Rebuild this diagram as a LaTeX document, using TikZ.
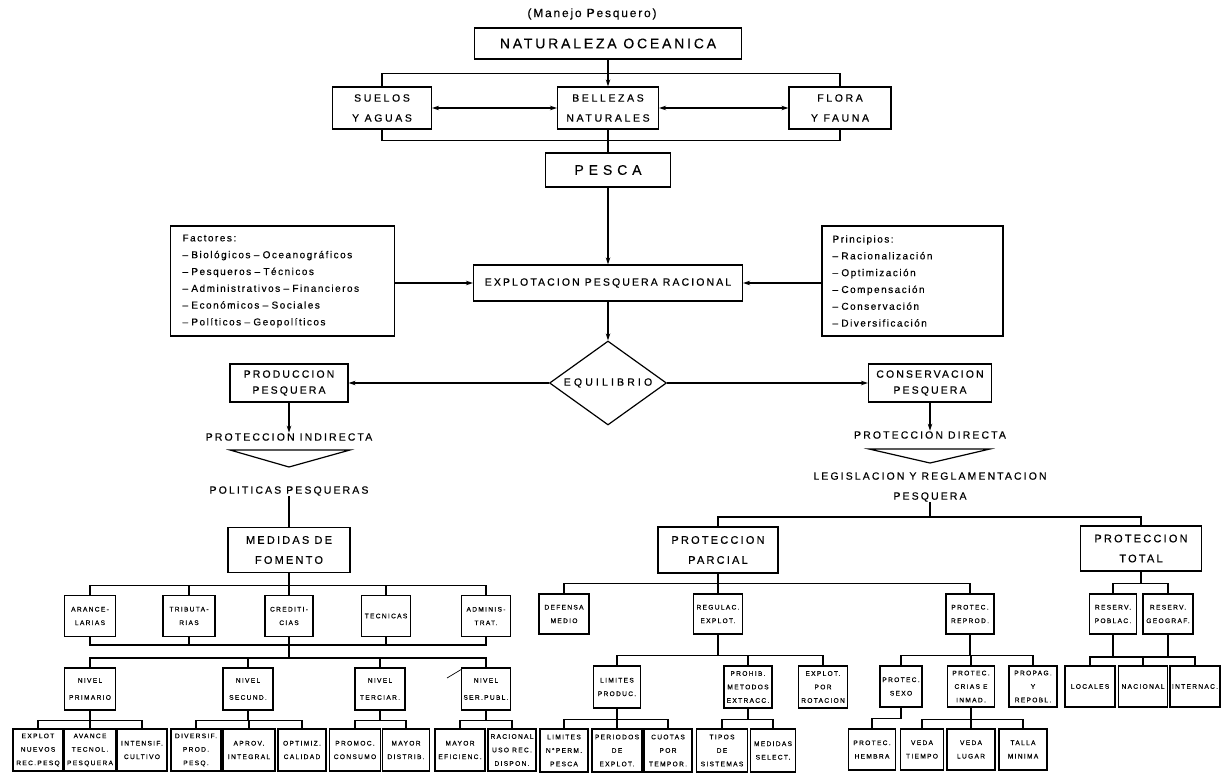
\documentclass[tikz,border=0pt]{standalone}
\usepackage{fontspec}
\setmainfont{Liberation Sans}
\newfontfamily\lettering{Liberation Sans}[LetterSpace=20, FakeBold=0.4]
\newfontfamily\handlettering{Liberation Sans}[LetterSpace=15, FakeBold=0.4]
\usetikzlibrary{positioning,arrows.meta,shapes.geometric}

\newcommand{\fntbig}{\lettering\fontsize{14}{20}\selectfont}
\newcommand{\fnthead}{\lettering\fontsize{11}{20}\selectfont}
\newcommand{\fntmid}{\lettering\fontsize{10.5}{20}\selectfont}
\newcommand{\fntpair}{\lettering\fontsize{10.5}{16}\selectfont}
\newcommand{\fntleaf}{\lettering\fontsize{6.6}{13.5}\selectfont}
\newcommand{\fntlist}{\handlettering\fontsize{10}{16.8}\selectfont}

\begin{document}
\begin{tikzpicture}[
      x=1pt, y=-1pt,
      line width=1.2pt,
      every node/.style={
        align=center, inner sep=0pt
      },
      box/.style={draw},
      topbox/.style={box, minimum height=42, font=\fntmid\addfontfeature{LetterSpace=25}},
      leaf/.style={box, minimum width=49, minimum height=41, font=\fntleaf},
      nivel/.style={leaf, minimum height=42, font=\lettering\fontsize{6.6}{17}\selectfont},
      >={Stealth[length=7pt,width=4.5pt]}
    ]
    \useasboundingbox (0,0) rectangle (1222,775);

    % Top
    \node (manejo) [font=\handlettering\fontsize{12}{14}\selectfont] at (592,14) {(Manejo Pesquero)};
    \node (nat) [box, minimum width=267, minimum height=31, font=\fntbig] at (608,43.5) {NATURALEZA OCEANICA};
    \node (suelos) [topbox, minimum width=99] at (382,108) {SUELOS\\Y AGUAS};
    \node (bellezas) [topbox, minimum width=101] at (608,108) {BELLEZAS\\NATURALES};
    \node (flora) [topbox, minimum width=102] at (840,108) {FLORA\\Y FAUNA};
    \node (pesca) [box, minimum width=125, minimum height=34, font=\fntbig\addfontfeature{LetterSpace=35}] at (608,170) {PESCA};

    % Factores and principios
    \node (factores) [box, text width=200, inner xsep=12, minimum height=110, align=left, font=\fntlist] at (282.5,281)
      {Factores:\\– Biológicos – Oceanográficos\\– Pesqueros – Técnicos\\– Administrativos – Financieros\\– Económicos – Sociales\\– Políticos – Geopolíticos};
    \node (explot) [box, minimum width=269, minimum height=36, font=\fntmid] at (608,283) {EXPLOTACION PESQUERA RACIONAL};
    \node (principios) [box, text width=160, inner xsep=10.5, minimum height=110, align=left, font=\fntlist] at (912.5,281)
      {Principios:\\– Racionalización\\– Optimización\\– Compensación\\– Conservación\\– Diversificación};

    % Equilibrio
    \node (equil) [draw, diamond, aspect=1.4, minimum width=117, minimum height=84, font=\fntmid\addfontfeature{LetterSpace=30}] at (608,383) {EQUILIBRIO};
    \node (produccion) [box, minimum width=118, minimum height=38, font=\fntpair] at (289,383) {PRODUCCION\\PESQUERA};
    \node (conserv) [box, minimum width=123, minimum height=38, font=\fntpair] at (930,383) {CONSERVACION\\PESQUERA};
    \node (proind) [font=\fntmid] at (289,437) {PROTECCION INDIRECTA};
    \node (politicas) [font=\fntmid] at (289,491) {POLITICAS PESQUERAS};
    \node (prodir) [font=\fntmid] at (930,435) {PROTECCION DIRECTA};
    \node (legis) [font=\fntmid] at (930,487) {LEGISLACION Y REGLAMENTACION\\PESQUERA};

    % Medidas de fomento
    \node (medidas) [box, minimum width=122, minimum height=45, font=\fnthead] at (289,550) {MEDIDAS DE\\FOMENTO};
    \node (aranc) [leaf, minimum width=51] at (90,616) {ARANCE-\\LARIAS};
    \node (tribut) [leaf, minimum width=52] at (189,616) {TRIBUTA-\\RIAS};
    \node (credit) [leaf, minimum width=48] at (289,616) {CREDITI-\\CIAS};
    \node (tecnicas) [leaf] at (386,616) {TECNICAS};
    \node (adminis) [leaf] at (486,616) {ADMINIS-\\TRAT.};
    \node (nprim) [nivel, minimum width=51] at (90,689) {NIVEL\\PRIMARIO};
    \node (nsec) [nivel, minimum width=50] at (248,689) {NIVEL\\SECUND.};
    \node (nter) [nivel, minimum width=50] at (380,689) {NIVEL\\TERCIAR.};
    \node (nserv) [nivel] at (486,689) {NIVEL\\SER.PUBL.};
    \node (exnuevos) [leaf, minimum width=50, minimum height=42] at (38,750) {EXPLOT\\NUEVOS\\REC.PESQ};
    \node (avance) [leaf, minimum width=51, minimum height=42] at (90,750) {AVANCE\\TECNOL.\\PESQUERA};
    \node (intensif) [leaf, minimum width=50, minimum height=42] at (142,750) {INTENSIF.\\CULTIVO};
    \node (diversif) [leaf, minimum width=50, minimum height=42] at (196,750) {DIVERSIF.\\PROD.\\PESQ.};
    \node (aprov) [leaf, minimum width=52, minimum height=42] at (249,750) {APROV.\\INTEGRAL};
    \node (optimiz) [leaf, minimum width=48, minimum height=42] at (302,750) {OPTIMIZ.\\CALIDAD};
    \node (promoc) [leaf, minimum width=51, minimum height=42] at (355,750) {PROMOC.\\CONSUMO};
    \node (mdistrib) [leaf, minimum width=47, minimum height=42] at (406,750) {MAYOR\\DISTRIB.};
    \node (mefic) [leaf, minimum width=50, minimum height=42] at (460,750) {MAYOR\\EFICIENC.};
    \node (racional) [leaf, minimum width=48, minimum height=42] at (512,750) {RACIONAL\\USO REC.\\DISPON.};

    % Proteccion parcial y total
    \node (parcial) [box, minimum width=120, minimum height=46, font=\fnthead] at (718,550) {PROTECCION\\PARCIAL};
    \node (total) [box, minimum width=121, minimum height=45, font=\fnthead] at (1141,548.5) {PROTECCION\\TOTAL};
    \node (defensa) [leaf, minimum width=50, minimum height=40] at (564,614) {DEFENSA\\MEDIO};
    \node (regulac) [leaf, minimum height=40] at (718,614) {REGULAC.\\EXPLOT.};
    \node (reprod) [leaf, minimum width=48, minimum height=40] at (970,614) {PROTEC.\\REPROD.};
    \node (poblac) [leaf, minimum width=47, minimum height=40] at (1113,614) {RESERV.\\POBLAC.};
    \node (geograf) [leaf, minimum width=50, minimum height=40] at (1168,614) {RESERV.\\GEOGRAF.};
    \node (locales) [leaf, minimum width=50] at (1090,686.5) {LOCALES};
    \node (nacional) [leaf] at (1143,686.5) {NACIONAL};
    \node (internac) [leaf, minimum width=50] at (1195,686.5) {INTERNAC.};
    \node (limprod) [leaf, minimum width=47, minimum height=42] at (617,687) {LIMITES\\PRODUC.};
    \node (prohib) [leaf, minimum width=48, minimum height=42] at (748,687) {PROHIB.\\METODOS\\EXTRACC.};
    \node (exrot) [leaf, minimum height=42] at (823,687) {EXPLOT.\\POR\\ROTACION};
    \node (sexo) [leaf, minimum width=42] at (901,686.5) {PROTEC.\\SEXO};
    \node (crias) [leaf, minimum width=47] at (971,686.5) {PROTEC.\\CRIAS E\\INMAD.};
    \node (propag) [leaf, minimum width=48] at (1033,686.5) {PROPAG.\\Y\\REPOBL.};
    \node (limperm) [leaf, minimum width=48, minimum height=43] at (564,750.5) {LIMITES\\N°PERM.\\PESCA};
    \node (periodos) [leaf, minimum width=50, minimum height=43] at (617,750.5) {PERIODOS\\DE\\EXPLOT.};
    \node (cuotas) [leaf, minimum width=48, minimum height=43] at (668,750.5) {CUOTAS\\POR\\TEMPOR.};
    \node (tipos) [leaf, minimum width=51, minimum height=43] at (722,750.5) {TIPOS\\DE\\SISTEMAS};
    \node (medsel) [leaf, minimum width=45, minimum height=43] at (773,750.5) {MEDIDAS\\SELECT.};
    \node (hembra) [leaf, minimum width=47] at (872,749.5) {PROTEC.\\HEMBRA};
    \node (vtiempo) [leaf, minimum width=43] at (922,749.5) {VEDA\\TIEMPO};
    \node (vlugar) [leaf, minimum width=48] at (971,749.5) {VEDA\\LUGAR};
    \node (talla) [leaf, minimum width=48] at (1023,749.5) {TALLA\\MINIMA};

    % Top arrows
    \draw[->] (nat) -- (bellezas);
    \draw (suelos.north) -- ++(0,-13) -| (flora.north);
    \draw (suelos.south) -- ++(0,11) -| (flora.south);
    \draw[<->] (suelos) -- (bellezas);
    \draw[<->] (bellezas) -- (flora);
    \draw (bellezas) -- (pesca);
    \draw[->] (pesca) -- (explot);
    \draw[->] (factores.east |- explot) -- (explot);
    \draw[->] (principios.west |- explot) -- (explot);
    \draw[->] (explot) -- (equil);
    \draw[->] (equil) -- (produccion);
    \draw[->] (equil) -- (conserv);
    \draw[->] (produccion) -- (proind);
    \draw[->] (conserv) -- (prodir);
    \draw[line join=miter] (230,450) -- (350,450) -- (289,467) -- cycle;
    \draw[line join=miter] (869,449) -- (990,449) -- (930,463) -- cycle;
    \draw (politicas) -- (medidas);
    \coordinate (lb) at (930,517);
    \draw (legis.south) -- (lb);
    \draw (parcial.north) |- (lb) -| (total.north);

    % Left tree
    \draw (medidas.south) -- ++(0,12) coordinate (mb);
    \draw (aranc.north) |- (mb) -| (adminis.north);
    \draw (tribut.north) -- (tribut.north |- mb);
    \draw (credit.north) -- (mb);
    \draw (tecnicas.north) -- (tecnicas.north |- mb);
    \coordinate (fb) at (289,645);
    \coordinate (nb) at (289,658);
    \draw (aranc.south) |- (fb) -| (adminis.south);
    \draw (tribut.south) -- (tribut.south |- fb);
    \draw (credit.south) -- (nb);
    \draw (tecnicas.south) -- (tecnicas.south |- fb);
    \draw (nprim.north) |- (nb) -| (nserv.north);
    \draw (nsec.north) -- (nsec.north |- nb);
    \draw (nter.north) -- (nter.north |- nb);
    \draw (nprim.south) -- ++(0,10) coordinate (pb);
    \draw (exnuevos.north) |- (pb) -| (intensif.north);
    \draw (avance.north) -- (pb);
    \draw (nsec.south) -- ++(0,10) coordinate (sb);
    \draw (diversif.north) |- (sb) -| (optimiz.north);
    \draw (aprov.north) -- (aprov.north |- sb);
    \draw (nter.south) -- ++(0,10) coordinate (tb);
    \draw (promoc.north) |- (tb) -| (mdistrib.north);
    \draw (nserv.south) -- ++(0,10) coordinate (vb);
    \draw (mefic.north) |- (vb) -| (racional.north);
    \draw[line width=0.7pt] (447,678) -- (462,669);

    % Right tree
    \draw (parcial.south) -- ++(0,10) coordinate (ppb);
    \draw (defensa.north) |- (ppb) -| (reprod.north);
    \draw (regulac.north) -- (ppb);
    \draw (total.south) -- ++(0,12) coordinate (tob);
    \draw (poblac.north) |- (tob) -| (geograf.north);
    \coordinate (rb) at (1143,657);
    \draw (poblac.south) -- (poblac.south |- rb);
    \draw (geograf.south) -- (geograf.south |- rb);
    \draw (locales.north) |- (rb) -| (internac.north);
    \draw (nacional.north) -- (rb);
    \draw (regulac.south) -- ++(0,21) coordinate (gb);
    \draw (limprod.north) |- (gb) -| (exrot.north);
    \draw (prohib.north) -- (prohib.north |- gb);
    \draw (reprod.south) -- ++(0,21) coordinate (eb);
    \draw (sexo.north) |- (eb) -| (propag.north);
    \draw (crias.north) -- (crias.north |- eb);
    \draw (limprod.south) -- ++(0,11) coordinate (lpb);
    \draw (limperm.north) |- (lpb) -| (cuotas.north);
    \draw (periodos.north) -- (lpb);
    \draw (prohib.south) -- ++(0,11) coordinate (hb);
    \draw (tipos.north) |- (hb) -| (medsel.north);
    \draw (sexo.south) -- ++(0,11) -| (hembra.north);
    \draw (crias.south) -- ++(0,11.5) coordinate (cb);
    \draw (vtiempo.north) |- (cb) -| (talla.north);
    \draw (vlugar.north) -- (cb);
  \end{tikzpicture}
\end{document}
